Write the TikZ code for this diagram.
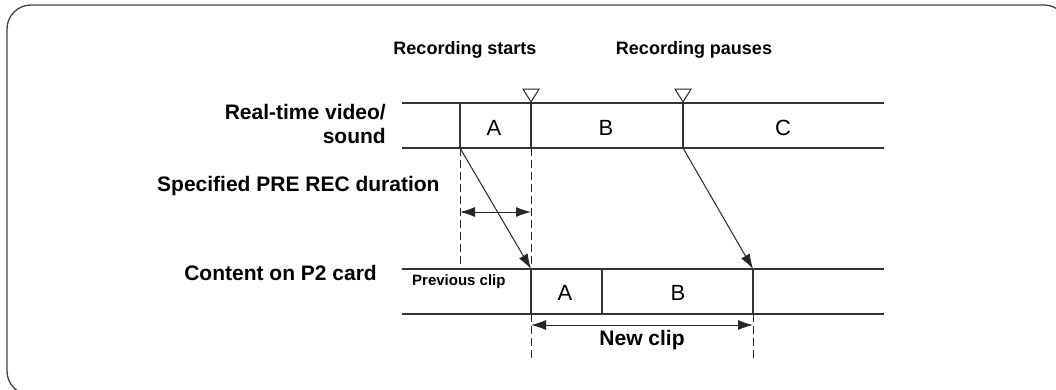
\documentclass[tikz,border=0pt]{standalone}
\usepackage{fontspec}
\setmainfont{Liberation Sans}
\usetikzlibrary{arrows.meta}
\begin{document}
\begin{tikzpicture}[x=1pt,y=-1pt,
  band/.style={line width=2.2pt,draw=black!80},
  thin/.style={line width=1pt,draw=black!85},
  dsh/.style={line width=1pt,draw=black!85,dash pattern=on 8pt off 4pt},
  arr/.style={thin,-{Latex[length=15pt,width=10pt]}},
  darr/.style={thin,{Latex[length=15pt,width=10pt]}-{Latex[length=15pt,width=10pt]}},
  lbl/.style={font=\fontsize{21}{24}\selectfont\bfseries,inner sep=0pt},
  hd/.style={font=\fontsize{18}{20}\selectfont\bfseries,inner sep=0pt},
  seg/.style={font=\fontsize{22}{24}\selectfont,inner sep=0pt},
  tri/.style={line width=1pt,draw=black!85}]
\useasboundingbox (0,0) rectangle (1056,389);
\begin{scope}
\clip (0,0) rectangle (1056,389);
\draw[line width=1.3pt,draw=black!75,rounded corners=24pt] (7,5) rectangle (1068,395);
\end{scope}
% key coordinates
\coordinate (t1L) at (402,103); \coordinate (t1R) at (884,103);
\coordinate (t2L) at (402,148); \coordinate (t2R) at (884,148);
\coordinate (b1L) at (402,269); \coordinate (b1R) at (884,269);
\coordinate (b2L) at (402,314); \coordinate (b2R) at (884,314);
\coordinate (va1) at (460,103); \coordinate (va2) at (460,148);
\coordinate (vb1) at (531,103); \coordinate (vb2) at (531,148);
\coordinate (vc1) at (683,103); \coordinate (vc2) at (683,148);
\coordinate (wa1) at (531,269); \coordinate (wa2) at (531,314);
\coordinate (wb1) at (602,269); \coordinate (wb2) at (602,314);
\coordinate (wc1) at (753,269); \coordinate (wc2) at (753,314);
\coordinate (d1) at (460,269);
\coordinate (d2) at (531,358);
\coordinate (d3) at (753,358);
\coordinate (pa) at (460,212); \coordinate (pb) at (531,212);
\coordinate (na) at (531,325); \coordinate (nb) at (753,325);
% bands
\draw[band] (t1L) -- (t1R);
\draw[band] (t2L) -- (t2R);
\draw[band] (b1L) -- (b1R);
\draw[band] (b2L) -- (b2R);
\draw[band] (va1) -- (va2);
\draw[band] (vb1) -- (vb2);
\draw[band] (vc1) -- (vc2);
\draw[band] (wa1) -- (wa2);
\draw[band] (wb1) -- (wb2);
\draw[band] (wc1) -- (wc2);
% triangles
\draw[tri] (523,89) -- (539,89) -- (531,102) -- cycle;
\draw[tri] (675,89) -- (691,89) -- (683,102) -- cycle;
% dashed
\draw[dsh] (va2) -- (d1);
\draw[dsh] (vb2) -- (wa1);
\draw[dsh] (wa2) -- (d2);
\draw[dsh] (wc2) -- (d3);
% arrows
\draw[arr] (va2) -- (wa1);
\draw[arr] (vc2) -- (wc1);
\draw[darr] (pa) -- (pb);
\draw[darr] (na) -- (nb);
% segment labels
\node[seg] (sA) at (494,128) {A};
\node[seg] (sB) at (606,128) {B};
\node[seg] (sC) at (783,128) {C};
\node[seg] (sA2) at (565,293) {A};
\node[seg] (sB2) at (678,293) {B};
% text labels
\node[hd] (rs) at (465,50) {Recording starts};
\node[hd] (rp) at (694,50) {Recording pauses};
\node[lbl,anchor=east,align=right] (rt) at (386,124) {Real-time video/\\[0pt]sound};
\node[lbl,anchor=west] (sp) at (157,186) {Specified PRE REC duration};
\node[lbl,anchor=east] (cp) at (377,273) {Content on P2 card};
\node[font=\fontsize{15}{17}\selectfont\bfseries,inner sep=0pt,anchor=west] (pc) at (412,282) {Previous clip};
\node[lbl] (nc) at (642,340) {New clip};
\end{tikzpicture}
\end{document}
